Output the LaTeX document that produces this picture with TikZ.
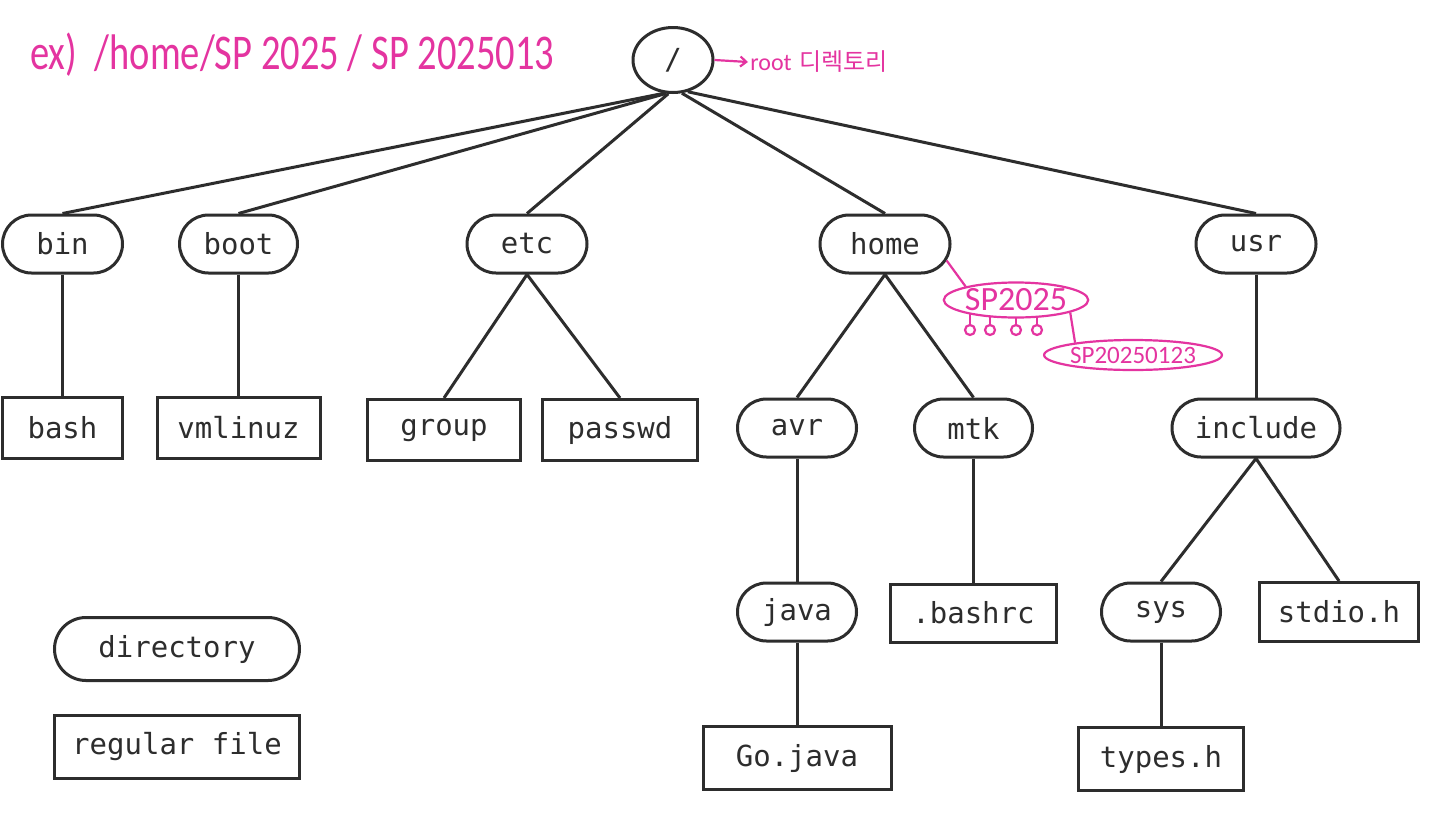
\documentclass[tikz,border=0pt]{standalone}
\usepackage{fontspec}
\usepackage{graphicx}
\usetikzlibrary{shapes.misc,shapes.geometric,arrows.meta}
\newfontfamily\monofont{DejaVu Sans Mono}
\newfontfamily\handfont{Carlito}
\newfontfamily\krfont{Noto Sans CJK KR}
\definecolor{ink}{RGB}{45,45,45}
\definecolor{pen}{RGB}{228,52,160}
\begin{document}
\begin{tikzpicture}[x=0.5pt,y=-0.5pt,
  dirnode/.style={rounded rectangle, draw=ink, line width=1.5pt, minimum height=29pt, inner sep=0pt, text=ink, font=\monofont\fontsize{14.5}{16}\selectfont},
  filenode/.style={rectangle, draw=ink, line width=1.5pt, minimum height=30.5pt, inner sep=0pt, text=ink, font=\monofont\fontsize{14.5}{16}\selectfont},
  link/.style={draw=ink, line width=1.5pt},
  penline/.style={draw=pen, line width=1.1pt},
  penbubble/.style={ellipse, draw=pen, line width=1.1pt, inner sep=0pt, text=pen}
]
\useasboundingbox[fill=white] (0,0) rectangle (1440,825);

% root
\node[ellipse, draw=ink, line width=1.5pt, minimum width=40pt, minimum height=32.5pt, inner sep=0pt, text=ink, font=\monofont\fontsize{14.5}{16}\selectfont] (root) at (673,60) {/};

% level 1
\node[dirnode, minimum width=60pt] (bin) at (62.5,244) {bin};
\node[dirnode, minimum width=59pt] (boot) at (238.5,244) {boot};
\node[dirnode, minimum width=60pt] (etc) at (527,244) {etc};
\node[dirnode, minimum width=65pt] (home) at (885,244) {home};
\node[dirnode, minimum width=60pt] (usr) at (1256,244) {usr};

% level 2
\node[filenode, minimum width=60pt] (bash) at (62.5,428) {bash};
\node[filenode, minimum width=81.5pt] (vmlinuz) at (238.5,428) {vmlinuz};
\node[filenode, minimum width=76.5pt] (group) at (444,430) {group};
\node[filenode, minimum width=77.5pt] (passwd) at (620,430) {passwd};
\node[dirnode, minimum width=59.5pt] (avr) at (797,428) {avr};
\node[dirnode, minimum width=59pt] (mtk) at (973.5,428) {mtk};
\node[dirnode, minimum width=84pt] (include) at (1256,428) {include};

% level 3
\node[dirnode, minimum width=59.5pt] (java) at (797,612) {java};
\node[filenode, minimum width=83pt, minimum height=29pt] (bashrc) at (973.5,613) {.bashrc};
\node[dirnode, minimum width=59.5pt] (sys) at (1161,612) {sys};
\node[filenode, minimum width=79.5pt, minimum height=29.5pt] (stdio) at (1339,612) {stdio.h};

% level 4
\node[filenode, minimum width=94pt, minimum height=31.5pt] (gojava) at (797,758) {Go.java};
\node[filenode, minimum width=82.5pt, minimum height=31.5pt] (types) at (1161,759) {types.h};

% legend
\node[dirnode, minimum width=122.5pt, minimum height=31.5pt] (legdir) at (177,649) {directory};
\node[filenode, minimum width=122.5pt, minimum height=31.5pt] (legfile) at (177,747) {regular file};

% connectors
\draw[link] (root.255) -- (bin.north);
\draw[link] (root.258) -- (boot.north);
\draw[link] (root.262) -- (etc.north);
\draw[link] (root.285) -- (home.north);
\draw[link] (root.295) -- (usr.north);
\draw[link] (bin.south) -- (bash.north);
\draw[link] (boot.south) -- (vmlinuz.north);
\draw[link] (etc.south) -- (group.north);
\draw[link] (etc.south) -- (passwd.north);
\draw[link] (home.south) -- (avr.north);
\draw[link] (home.south) -- (mtk.north);
\draw[link] (usr.south) -- (include.north);
\draw[link] (avr.south) -- (java.north);
\draw[link] (mtk.south) -- (bashrc.north);
\draw[link] (java.south) -- (gojava.north);
\draw[link] (include.south) -- (sys.north);
\draw[link] (include.south) -- (stdio.north);
\draw[link] (sys.south) -- (types.north);

% handwritten annotations
\node[anchor=west, text=pen, inner sep=0pt, font=\handfont\fontsize{25}{28}\selectfont] (path) at (30,55) {\scalebox{0.77}[1]{ex)\ \ /home/SP 2025 / SP 2025013}};

\coordinate (arrowend) at (748,62);
\draw[penline, -{Straight Barb[length=3pt,width=5pt]}] (root.east) -- (arrowend);
\node[anchor=west, text=pen, inner sep=1pt, font=\fontsize{12}{14}\selectfont] (rootlabel) at (arrowend) {{\handfont root} {\krfont 디렉토리}};

\node[penbubble, minimum width=61.5pt, minimum height=17.5pt, font=\handfont\fontsize{17}{19}\selectfont] (sp) at (1016,300) {SP2025};
\draw[penline] (home.-15) -- (sp.165);
\foreach \xx/\yy in {970/313, 990/316, 1016/318, 1037/316.5} {
  \draw[penline] (\xx,\yy) -- (\xx,325);
  \draw[penline] (\xx,330) circle (5);
}
\node[penbubble, minimum width=76pt, minimum height=15pt, font=\handfont\fontsize{12.5}{14}\selectfont] (sp2) at (1133,355) {SP20250123};
\draw[penline] (sp.-13) -- (sp2.168);
\end{tikzpicture}
\end{document}
